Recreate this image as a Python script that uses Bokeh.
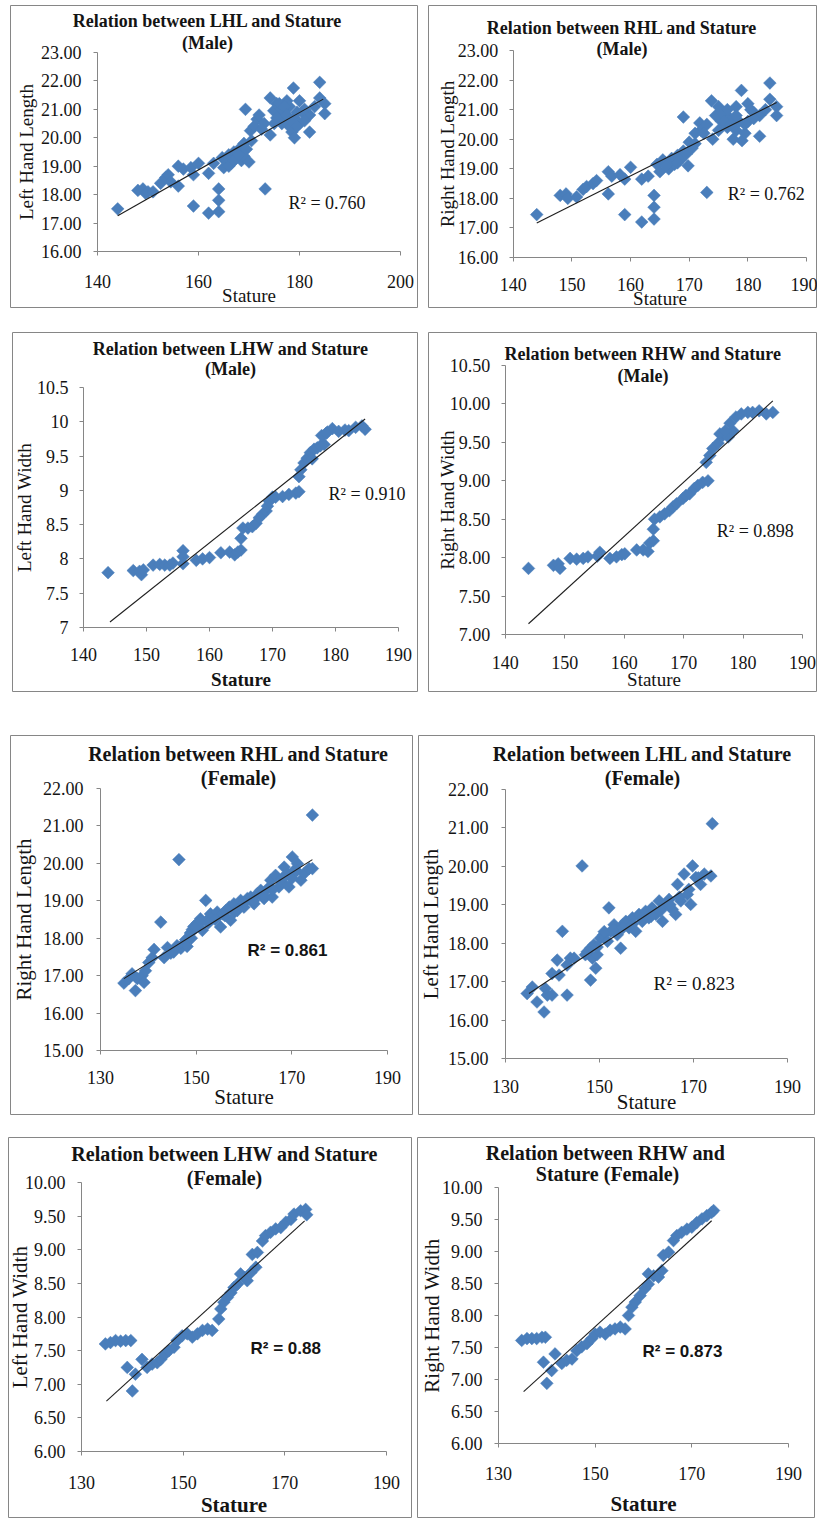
import math
from bokeh.plotting import figure
from bokeh.models import LinearAxis, FixedTicker, Label, Range1d, Spacer
from bokeh.layouts import row, column
from bokeh.embed import file_html
from bokeh.resources import INLINE

# ---------------- DATA ----------------
# Panel 1: LHL vs stature (male)
m_lhl_stature = [144, 148, 149, 149.5, 150, 151, 152.5, 153.5, 154, 154.5, 156, 156, 157, 158.5, 159, 160, 159,
                 162, 162, 163, 164, 164, 164, 164.7, 165, 165.5, 166, 166.5, 167, 167.5, 168, 168.5, 169, 169,
                 170, 169.3, 170.3, 171.6, 172, 173, 173.2, 174.2, 174.2, 174.9, 175.5, 176, 176.5, 177, 177.5,
                 178, 178, 178.5, 178.8, 179, 179, 179.5, 180, 180, 181, 182, 182, 183, 184, 184, 185, 185,
                 175.5, 176, 176.5, 177, 177.5, 178.2, 179.5, 180.5, 181, 175, 166, 167, 168, 169.5, 170.5, 171,
                 172.5]
m_lhl = [17.5, 18.15, 18.2, 18.05, 18.1, 18.1, 18.4, 18.6, 18.7, 18.45, 19.0, 18.3, 18.9, 18.95, 18.7, 19.1, 17.6,
         18.75, 17.35, 19.1, 18.2, 17.8, 17.4, 19.3, 18.95, 19.2, 19.4, 19.1, 19.5, 19.3, 19.6, 19.2, 19.35, 19.8,
         19.15, 21.0, 20.25, 20.65, 20.8, 20.5, 18.2, 20.1, 21.4, 20.95, 21.2, 20.8, 21.0, 20.6, 21.3, 20.4, 21.1,
         20.2, 21.75, 20.0, 20.7, 20.9, 21.3, 20.5, 21.0, 20.2, 20.8, 21.1, 21.95, 21.4, 21.2, 20.85,
         20.7, 21.2, 20.5, 21.1, 20.8, 20.6, 20.4, 20.9, 20.6, 20.5, 19.0, 19.2, 19.4, 19.6, 19.9, 20.4, 20.3]
m_lhl_trend_x = [144, 184.7]
m_lhl_trend_y = [17.26, 21.36]

# Panel 2: RHL vs stature (male)
m_rhl_stature = [144, 148, 149, 149.3, 150.8, 151.9, 152.5, 153.6, 154.2, 156.2, 156.2, 156.8, 158.2, 159, 159, 160,
                 161.9, 161.9, 163, 164, 164, 164, 164.5, 165, 165.5, 166, 166.5, 167, 167.5, 168, 168.5, 169, 169,
                 169.8, 170, 171, 171.8, 172, 173, 173, 173.8, 174, 174.5, 175, 175.5, 176, 176.5, 177, 177.5, 178,
                 178, 178.5, 178.9, 179, 179.5, 180, 180, 181, 182, 182, 183, 183.75, 183.75, 184.9, 184.9,
                 175.5, 176, 176.5, 177, 178, 179.5, 180.5, 181, 175, 166, 167, 168, 169.5, 170.5, 171, 172.5]
m_rhl = [17.45, 18.1, 18.15, 18.0, 18.05, 18.3, 18.4, 18.5, 18.6, 18.9, 18.15, 18.75, 18.8, 18.65, 17.45, 19.05,
         18.65, 17.2, 18.75, 18.1, 17.7, 17.3, 19.15, 18.9, 19.3, 19.2, 19.0, 19.35, 19.15, 19.45, 19.3, 19.6, 20.75,
         19.1, 19.9, 19.85, 20.55, 20.3, 18.2, 20.5, 21.3, 20.0, 20.8, 21.1, 20.6, 20.9, 20.4, 20.7, 20.0, 21.1,
         20.3, 20.6, 21.65, 19.95, 20.2, 21.2, 20.6, 20.9, 20.1, 20.8, 21.0, 21.9, 21.35, 21.1, 20.8,
         20.9, 20.6, 21.0, 20.5, 20.8, 20.5, 21.0, 20.7, 20.3, 19.1, 19.3, 19.2, 19.5, 19.7, 20.2, 20.2]
m_rhl_trend_x = [144, 184.9]
m_rhl_trend_y = [17.17, 21.24]

# Panel 3: LHW vs stature (male)
m_lhw_stature = [143.9, 147.9, 148.9, 149.2, 149.5, 151.05, 152.1, 152.9, 153.7, 154.2, 155.8, 155.8, 155.8, 157.9,
                 158.9, 160, 161.8, 163.2, 164, 164.5, 165, 165, 165.3, 166.1, 166.8, 167.4, 167.9, 168.4, 169,
                 169.2, 169.5, 170, 170.5, 171.6, 172.6, 173.7, 174.2, 174.2, 174.5, 175, 175.5, 176, 176.6, 177.1,
                 177.6, 178.2, 178.7, 179.5, 180.5, 181.5, 182.1, 183.2, 184.2, 184.7, 176.3, 177.8, 178.5]
m_lhw = [7.8, 7.83, 7.82, 7.77, 7.84, 7.91, 7.92, 7.91, 7.91, 7.94, 8.12, 8.03, 7.93, 7.98, 8.0, 8.02, 8.09, 8.1,
         8.06, 8.1, 8.13, 8.3, 8.45, 8.45, 8.47, 8.52, 8.6, 8.65, 8.7, 8.77, 8.84, 8.9, 8.9, 8.91, 8.94, 8.96, 8.98,
         9.2, 9.3, 9.4, 9.47, 9.55, 9.6, 9.62, 9.65, 9.67, 9.85, 9.9, 9.86, 9.88, 9.87, 9.92, 9.94, 9.89, 9.46, 9.8,
         9.83]
m_lhw_trend_x = [144.2, 184.7]
m_lhw_trend_y = [7.08, 10.04]

# Panel 4: RHW vs stature (male)
m_rhw_stature = [143.9, 148.1, 148.9, 149.2, 150.9, 152, 153.1, 153.9, 155.9, 155.5, 157.6, 158.7, 159.6, 160.1,
                 162.1, 163.2, 164, 164.3, 164.9, 164.9, 165.1, 166, 166.8, 167.6, 168.2, 168.8, 169.9, 170.4, 171,
                 171.8, 172.4, 173.2, 174.1, 173.8, 174.4, 174.9, 175.8, 176.1, 176.6, 177.5, 178.3, 178.8, 179.7,
                 180.8, 181.6, 182.7, 183.9, 185, 177, 177.8]
m_rhw = [7.86, 7.9, 7.92, 7.86, 7.99, 7.98, 7.99, 8.01, 8.07, 8.02, 7.99, 8.01, 8.04, 8.05, 8.1, 8.1, 8.08, 8.19,
         8.22, 8.37, 8.5, 8.53, 8.57, 8.61, 8.66, 8.7, 8.77, 8.81, 8.83, 8.9, 8.94, 8.98, 9.0, 9.24, 9.33, 9.42,
         9.49, 9.61, 9.59, 9.57, 9.65, 9.83, 9.87, 9.89, 9.89, 9.91, 9.87, 9.89, 9.65, 9.75]
m_rhw_trend_x = [143.9, 185]
m_rhw_trend_y = [7.14, 10.04]

# Panel 5: RHL vs stature (female)
f_rhl_stature = [134.9, 135.9, 136.6, 137.3, 137.7, 138.7, 139.1, 139.4, 140.1, 140.8, 141.2, 142.6, 143.3, 144,
                 144.7, 145.3, 146.4, 146.8, 147.5, 147.8, 148.1, 148.8, 149.2, 149.5, 150.2, 150.9, 151.3, 152,
                 152.3, 153, 153.7, 154.4, 155.1, 155.5, 156.2, 156.9, 157.2, 157.9, 158.6, 159.3, 160, 160.7,
                 161.4, 162.1, 162.8, 163.5, 164.2, 164.9, 165.6, 165.9, 166.6, 167.3, 168, 168.4, 169.1, 169.4,
                 170.1, 170.5, 171.2, 171.9, 172.6, 173.6, 174.3, 174.3,
                 150, 151, 152.5, 154, 156, 158, 160, 162, 164, 166, 168, 170, 171, 146, 149]
f_rhl = [16.8, 16.92, 17.05, 16.6, 16.92, 17.0, 16.82, 17.13, 17.35, 17.48, 17.7, 18.43, 17.48, 17.75, 17.6, 17.63,
         20.1, 17.73, 17.87, 17.96, 17.78, 18.14, 18.23, 18.31, 18.4, 18.52, 18.21, 19.01, 18.48, 18.65, 18.57,
         18.7, 18.3, 18.65, 18.74, 18.83, 18.48, 18.92, 18.74, 19.01, 18.83, 19.06, 19.1, 18.92, 19.19, 19.28,
         19.06, 19.32, 19.55, 19.1, 19.68, 19.37, 19.5, 19.9, 19.73, 19.37, 20.17, 19.81, 19.99, 19.55, 19.73,
         19.86, 21.29, 19.86,
         18.3, 18.45, 18.4, 18.5, 18.6, 18.7, 18.95, 19.0, 19.15, 19.3, 19.6, 19.6, 19.8, 17.8, 18.0]
f_rhl_trend_x = [134.9, 174.3]
f_rhl_trend_y = [16.92, 20.1]

# Panel 6: LHL vs stature (female)
f_lhl_stature = [134.6, 135.7, 136.7, 138.2, 138.5, 138.9, 139.9, 139.9, 141, 141.4, 142.1, 143.1, 143.1, 143.8,
                 144.6, 146.3, 147.4, 148.1, 148.5, 148.8, 148.1, 149.2, 149.5, 150.2, 150.9, 151.7, 152, 152.4,
                 153.1, 153.8, 154.5, 154.9, 155.6, 156.3, 157, 157.7, 158.4, 159.1, 159.8, 160.5, 161.2, 162,
                 162.7, 163.4, 164.1, 164.8, 165.5, 166.2, 166.6, 167.3, 168, 168.7, 169.4, 169.8, 170.5, 171.5,
                 172.3, 173.7, 174,
                 151, 153, 155, 157, 159, 161, 163, 165, 167, 169, 171, 147, 149.5]
f_lhl = [16.69, 16.86, 16.47, 16.21, 16.82, 16.65, 16.65, 17.21, 17.56, 17.17, 18.31, 16.65, 17.43, 17.61, 17.61,
         20.01, 17.78, 17.87, 17.61, 17.96, 17.04, 17.35, 17.7, 18.13, 18.22, 18.05, 18.92, 18.31, 18.48, 18.22,
         17.87, 18.48, 18.57, 18.4, 18.66, 18.31, 18.75, 18.57, 18.83, 18.66, 18.92, 18.75, 19.1, 18.57, 19.01,
         19.14, 18.88, 18.75, 19.53, 19.1, 19.8, 19.27, 19.01, 20.01, 19.71, 19.53, 19.8, 19.75, 21.11,
         18.3, 18.35, 18.4, 18.5, 18.65, 18.7, 18.85, 19.0, 19.2, 19.4, 19.7, 17.7, 17.9]
f_lhl_trend_x = [135, 174]
f_lhl_trend_y = [16.69, 19.88]

# Panel 7: LHW vs stature (female)
f_lhw_stature = [134.7, 135.7, 136.7, 137.7, 138.7, 139.7, 139, 140, 140.6, 141.9, 142.9, 143.9, 144.9, 145.6,
                 146.5, 147.2, 148.2, 148.8, 149.8, 150.8, 151.8, 152.8, 153.8, 154.8, 155.7, 157, 157.4, 158,
                 158.7, 159.4, 160, 160.7, 161.3, 162, 162.6, 163.3, 164.3, 163.6, 164.6, 165.6, 166.2, 167.2,
                 168.2, 169.2, 170.2, 171.2, 171.8, 173.1, 174.1, 174.3]
f_lhw = [7.6, 7.62, 7.65, 7.64, 7.65, 7.65, 7.25, 6.9, 7.15, 7.37, 7.25, 7.3, 7.32, 7.37, 7.45, 7.5, 7.55, 7.65,
         7.72, 7.75, 7.7, 7.75, 7.8, 7.82, 7.8, 7.97, 8.12, 8.22, 8.29, 8.36, 8.44, 8.49, 8.64, 8.59, 8.54, 8.66,
         8.74, 8.93, 8.96, 9.13, 9.21, 9.26, 9.31, 9.33, 9.41, 9.45, 9.53, 9.58, 9.6, 9.52]
f_lhw_trend_x = [134.9, 173.9]
f_lhw_trend_y = [6.75, 9.43]

# Panel 8: RHW vs stature (female)
f_rhw_stature = [134.8, 135.9, 136.9, 137.9, 139, 139.7, 139.3, 140, 141, 141.7, 143.1, 144.1, 145.2, 146.2, 147.2,
                 148.3, 149.3, 150, 151, 152.1, 153.1, 154.1, 155.2, 156.2, 156.9, 157.6, 158.3, 159.3, 160.3,
                 161, 161, 162.1, 163.1, 163.8, 164.1, 165.2, 166.2, 166.9, 167.9, 169, 170, 171, 172.1, 173.1,
                 174.1, 174.5]
f_rhw = [7.61, 7.64, 7.64, 7.64, 7.66, 7.66, 7.27, 6.94, 7.14, 7.4, 7.25, 7.3, 7.32, 7.45, 7.51, 7.56, 7.64, 7.71,
         7.74, 7.71, 7.77, 7.79, 7.82, 7.79, 8.0, 8.13, 8.21, 8.31, 8.42, 8.49, 8.65, 8.62, 8.6, 8.7, 8.94, 8.99,
         9.17, 9.25, 9.3, 9.35, 9.38, 9.45, 9.51, 9.56, 9.61, 9.64]
f_rhw_trend_x = [135.2, 174.1]
f_rhw_trend_y = [6.81, 9.48]

# Axis ticks and labels
male_len_xticks = [140, 160, 180, 200]
male_xticks = [140, 150, 160, 170, 180, 190]
female_xticks = [130, 150, 170, 190]
len_yticks_male = [16, 17, 18, 19, 20, 21, 22, 23]
len_ylabels_male = ["16.00", "17.00", "18.00", "19.00", "20.00", "21.00", "22.00", "23.00"]
lhw_yticks_male = [7, 7.5, 8, 8.5, 9, 9.5, 10, 10.5]
lhw_ylabels_male = ["7", "7.5", "8", "8.5", "9", "9.5", "10", "10.5"]
rhw_ylabels_male = ["7.00", "7.50", "8.00", "8.50", "9.00", "9.50", "10.00", "10.50"]
len_yticks_female = [15, 16, 17, 18, 19, 20, 21, 22]
len_ylabels_female = ["15.00", "16.00", "17.00", "18.00", "19.00", "20.00", "21.00", "22.00"]
w_yticks_female = [6, 6.5, 7, 7.5, 8, 8.5, 9, 9.5, 10]
w_ylabels_female = ["6.00", "6.50", "7.00", "7.50", "8.00", "8.50", "9.00", "9.50", "10.00"]

SERIF = "Liberation Serif"
SANS = "Liberation Sans"
BLUE = "#4a7ebb"
GRAY = "#868686"
INK = "#141414"

# ---------------- PANEL SPECS (layout only, page pixels) ----------------
specs = [
    dict(ref=(10, 5, 418, 308), box=(10, 5, 418, 308), xcal=((140, 97), (200, 400)), ycal=((23, 52), (16, 251)),
         x=m_lhl_stature, y=m_lhl, tx=m_lhl_trend_x, ty=m_lhl_trend_y,
         xt=male_len_xticks, xl=[str(v) for v in male_len_xticks], yt=len_yticks_male, yl=len_ylabels_male,
         ylab="Left Hand Length", xbold=False, tick_fs="18px", lab_fs="19px",
         xstand=19, ystand=12, xlstand=-6, ylstand=1,
         titles=[("Relation between LHL and Stature", 207, 20), ("(Male)", 207, 42)], title_fs="18px",
         r2=("R\u00b2 = 0.760", 288, 202), r2_bold=False, r2_fs="18px"),
    dict(ref=(428, 5, 818, 308), box=(428, 5, 817, 308), xcal=((140, 513), (190, 807)), ycal=((23, 50), (16, 257)),
         x=m_rhl_stature, y=m_rhl, tx=m_rhl_trend_x, ty=m_rhl_trend_y,
         xt=male_xticks, xl=[str(v) for v in male_xticks], yt=len_yticks_male, yl=len_ylabels_male,
         ylab="Right Hand Length", xbold=False, tick_fs="18px", lab_fs="19px",
         xstand=16, ystand=11, xlstand=-6, ylstand=-3,
         titles=[("Relation between RHL and Stature", 622, 27), ("(Male)", 622, 48)], title_fs="18px",
         r2=("R\u00b2 = 0.762", 728, 193), r2_bold=False, r2_fs="18px"),
    dict(ref=(12, 332, 418, 692), box=(12, 332, 418, 692), xcal=((140, 83), (190, 398)), ycal=((10.5, 387), (7, 627)),
         x=m_lhw_stature, y=m_lhw, tx=m_lhw_trend_x, ty=m_lhw_trend_y,
         xt=male_xticks, xl=[str(v) for v in male_xticks], yt=lhw_yticks_male, yl=lhw_ylabels_male,
         ylab="Left Hand Width", xbold=True, tick_fs="18px", lab_fs="19px",
         xstand=16, ystand=11, xlstand=5, ylstand=-1,
         titles=[("Relation between LHW and Stature", 230, 348), ("(Male)", 230, 368)], title_fs="18px",
         r2=("R\u00b2 = 0.910", 328, 493), r2_bold=False, r2_fs="18px"),
    dict(ref=(428, 332, 818, 692), box=(428, 332, 817, 692), xcal=((140, 505), (190, 803)), ycal=((10.5, 365), (7, 634)),
         x=m_rhw_stature, y=m_rhw, tx=m_rhw_trend_x, ty=m_rhw_trend_y,
         xt=male_xticks, xl=[str(v) for v in male_xticks], yt=lhw_yticks_male, yl=rhw_ylabels_male,
         ylab="Right Hand Width", xbold=False, tick_fs="18px", lab_fs="19px",
         xstand=17, ystand=11, xlstand=-3, ylstand=-11,
         titles=[("Relation between RHW and Stature", 643, 353), ("(Male)", 643, 375)], title_fs="18px",
         r2=("R\u00b2 = 0.898", 717, 530), r2_bold=False, r2_fs="18px"),
    dict(ref=(10, 735, 413, 1115), box=(10, 735, 413, 1115), xcal=((130, 100), (190, 387)), ycal=((22, 788), (15, 1050)),
         x=f_rhl_stature, y=f_rhl, tx=f_rhl_trend_x, ty=f_rhl_trend_y,
         xt=female_xticks, xl=[str(v) for v in female_xticks], yt=len_yticks_female, yl=len_ylabels_female,
         ylab="Right Hand Length", xbold=False, tick_fs="18px", lab_fs="21px",
         xstand=16, ystand=13, xlstand=-2, ylstand=4,
         titles=[("Relation between RHL and Stature", 238, 753), ("(Female)", 238, 777)], title_fs="20px",
         r2=("R\u00b2 = 0.861", 247, 950), r2_bold=True, r2_fs="17px"),
    dict(ref=(418, 735, 815, 1115), box=(418, 735, 815, 1115), xcal=((130, 505), (190, 787)), ycal=((22, 789), (15, 1058)),
         x=f_lhl_stature, y=f_lhl, tx=f_lhl_trend_x, ty=f_lhl_trend_y,
         xt=female_xticks, xl=[str(v) for v in female_xticks], yt=len_yticks_female, yl=len_ylabels_female,
         ylab="Left Hand Length", xbold=False, tick_fs="18px", lab_fs="21px",
         xstand=17, ystand=13, xlstand=-6, ylstand=2,
         titles=[("Relation between LHL and Stature", 642, 753), ("(Female)", 642, 777)], title_fs="20px",
         r2=("R\u00b2 = 0.823", 653, 983), r2_bold=False, r2_fs="19px"),
    dict(ref=(8, 1137, 412, 1518), box=(8, 1137, 412, 1518), xcal=((130, 81), (190, 386)), ycal=((10, 1182), (6, 1451)),
         x=f_lhw_stature, y=f_lhw, tx=f_lhw_trend_x, ty=f_lhw_trend_y,
         xt=female_xticks, xl=[str(v) for v in female_xticks], yt=w_yticks_female, yl=w_ylabels_female,
         ylab="Left Hand Width", xbold=True, tick_fs="18px", lab_fs="21px",
         xstand=20, ystand=12, xlstand=1, ylstand=-10,
         titles=[("Relation between LHW and Stature", 224, 1153), ("(Female)", 224, 1177)], title_fs="20px",
         r2=("R\u00b2 = 0.88", 250, 1348), r2_bold=True, r2_fs="17px"),
    dict(ref=(417, 1137, 815, 1518), box=(417, 1137, 815, 1518), xcal=((130, 498), (190, 788)), ycal=((10, 1187), (6, 1443)),
         x=f_rhw_stature, y=f_rhw, tx=f_rhw_trend_x, ty=f_rhw_trend_y,
         xt=female_xticks, xl=[str(v) for v in female_xticks], yt=w_yticks_female, yl=w_ylabels_female,
         ylab="Right Hand Width", xbold=True, tick_fs="18px", lab_fs="21px",
         xstand=19, ystand=12, xlstand=9, ylstand=-5,
         titles=[("Relation between RHW and", 605, 1152), ("Stature (Female)", 607, 1173)], title_fs="20px",
         r2=("R\u00b2 = 0.873", 642, 1351), r2_bold=True, r2_fs="17px"),
]


def build(s):
    L, T, R, B = s["ref"]
    L2, T2, R2, B2 = s["box"]
    W, H = R2 - L2, B2 - T2
    kx = W / (R - L)
    ky = H / (B - T)

    def fx(X):
        return (X - L) * kx

    def fy(Y):
        return (Y - T) * ky

    (xa, Xa), (xb, Xb) = s["xcal"]
    sx = (fx(Xb) - fx(Xa)) / (xb - xa)
    x0 = xa - fx(Xa) / sx
    (ya, Ya), (yb, Yb) = s["ycal"]
    sy = (fy(Yb) - fy(Ya)) / (ya - yb)
    ytop = ya + fy(Ya) / sy

    def dx(X):
        return x0 + fx(X) / sx

    def dy(Y):
        return ytop - fy(Y) / sy

    p = figure(width=W, height=H, x_range=Range1d(x0, x0 + W / sx), y_range=Range1d(ytop - H / sy, ytop),
               x_axis_type=None, y_axis_type=None, toolbar_location=None, output_backend="svg",
               min_border=0, title=None, outline_line_color=GRAY, outline_line_width=1,
               background_fill_color="white", border_fill_color="white")
    p.xgrid.visible = False
    p.ygrid.visible = False

    xt, yt = s["xt"], s["yt"]
    xax = LinearAxis(fixed_location=yt[0], bounds=(xt[0], xt[-1]), ticker=FixedTicker(ticks=xt),
                     major_label_overrides={v: t for v, t in zip(xt, s["xl"])}, axis_label="Stature")
    yax = LinearAxis(fixed_location=xt[0], bounds=(yt[0], yt[-1]), ticker=FixedTicker(ticks=yt),
                     major_label_overrides={v: t for v, t in zip(yt, s["yl"])}, axis_label=s["ylab"])
    for ax in (xax, yax):
        ax.axis_line_color = GRAY
        ax.major_tick_line_color = GRAY
        ax.minor_tick_line_color = None
        ax.major_tick_in = 0
        ax.major_tick_out = 4
        ax.major_label_text_font = SERIF
        ax.major_label_text_font_size = s["tick_fs"]
        ax.major_label_text_color = INK
        ax.axis_label_text_font = SERIF
        ax.axis_label_text_font_size = s["lab_fs"]
        ax.axis_label_text_color = INK
        ax.axis_label_text_font_style = "normal"
    xax.major_label_standoff = s["xstand"]
    yax.major_label_standoff = s["ystand"]
    xax.axis_label_standoff = s["xlstand"]
    yax.axis_label_standoff = s["ylstand"]
    if s["xbold"]:
        xax.axis_label_text_font_style = "bold"
    p.add_layout(xax, "below")
    p.add_layout(yax, "left")

    p.scatter(x=s["x"], y=s["y"], marker="square", size=9, angle=math.pi / 4,
              fill_color=BLUE, line_color=BLUE, line_width=0.5)
    p.line(x=s["tx"], y=s["ty"], line_color="#1e1e1e", line_width=1.1)

    for text, cx, cy in s["titles"]:
        p.add_layout(Label(x=dx(cx), y=dy(cy), text=text, text_align="center", text_baseline="middle",
                           text_font=SERIF, text_font_style="bold", text_font_size=s["title_fs"],
                           text_color=INK))
    r2t, rx, ry = s["r2"]
    p.add_layout(Label(x=dx(rx), y=dy(ry), text=r2t, text_align="left", text_baseline="middle",
                       text_font=SANS if s["r2_bold"] else SERIF,
                       text_font_style="bold" if s["r2_bold"] else "normal",
                       text_font_size=s["r2_fs"], text_color=INK))
    return p


figs = [build(s) for s in specs]


def make_row(i):
    sl, sr = specs[i], specs[i + 1]
    h = sl["box"][3] - sl["box"][1]
    kids = []
    if sl["box"][0] > 0:
        kids.append(Spacer(width=sl["box"][0], height=h))
    kids.append(figs[i])
    kids.append(Spacer(width=sr["box"][0] - sl["box"][2], height=h))
    kids.append(figs[i + 1])
    return row(*kids)


layout = column(
    Spacer(width=10, height=specs[0]["box"][1]),
    make_row(0),
    Spacer(width=10, height=specs[2]["box"][1] - specs[0]["box"][3]),
    make_row(2),
    Spacer(width=10, height=specs[4]["box"][1] - specs[2]["box"][3]),
    make_row(4),
    Spacer(width=10, height=specs[6]["box"][1] - specs[4]["box"][3]),
    make_row(6),
)

open("out.html", "w").write(file_html(layout, INLINE))
